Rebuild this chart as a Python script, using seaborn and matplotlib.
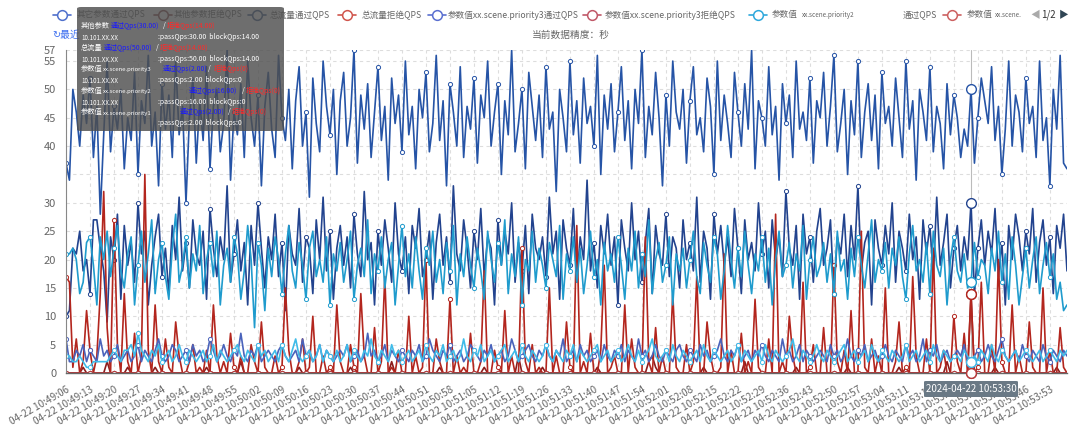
import matplotlib
matplotlib.use("Agg")
import matplotlib.pyplot as plt
from matplotlib.lines import Line2D
from matplotlib.patches import FancyBboxPatch
import pandas as pd
import seaborn as sns

W, H = 1080, 426

# ---- data (one point per second) ----
total_pass = [
    37, 34, 50, 46, 40, 49, 44, 52, 38, 47, 28, 42, 55, 39, 47, 43, 50, 36, 45, 41,
    53, 35, 48, 44, 56, 40, 46, 33, 51, 43, 49, 38, 55, 42, 47, 30, 45, 52, 37, 48,
    41, 54, 36, 47, 50, 39, 44, 57, 34, 46, 42, 51, 38, 55, 45, 40, 49, 33, 47, 53,
    43, 38, 56, 45, 41, 50, 36, 48, 54, 40, 46, 31, 52, 44, 39, 55, 47, 42, 50, 35,
    48, 53, 40, 45, 57, 37, 49, 43, 51, 38, 46, 54, 41, 47, 34, 52, 44, 49, 39, 55,
    42, 47, 36, 50, 45, 53, 39, 44, 56, 41, 48, 33, 51, 46, 40, 54, 38, 47, 43, 52,
    37, 49, 45, 55, 40, 46, 51, 35, 48, 42, 57, 39, 44, 50, 36, 53, 47, 41, 49, 38,
    54, 43, 46, 32, 50, 45, 39, 55, 42, 48, 37, 52, 44, 47, 40, 56, 35, 49, 43, 51,
    39, 46, 54, 41, 48, 36, 50, 44, 57, 38, 47, 42, 53, 45, 33, 49, 40, 55, 46, 43,
    50, 37, 48, 54, 42, 45, 39, 52, 47, 35, 55, 41, 49, 44, 38, 53, 46, 40, 51, 43,
    57, 36, 48, 45, 40, 54, 42, 47, 34, 51, 44, 49, 38, 55, 43, 46, 41, 52, 37, 48,
    45, 53, 40, 47, 56, 39, 44, 50, 35, 48, 42, 55, 38, 46, 51, 41, 49, 36, 53, 44,
    47, 40, 52, 45, 38, 55, 43, 48, 34, 50, 46, 41, 54, 39, 47, 44, 36, 51, 42, 49,
    45, 38, 43, 40, 50, 37, 45, 52, 48, 44, 54, 41, 47, 35, 43, 55, 40, 49, 46, 39,
    52, 44, 47, 38, 55, 41, 45, 33, 50, 43, 56, 37, 36,
]
other_pass = [
    10, 11, 22, 21, 25, 18, 20, 14, 27, 27, 22, 18, 9, 24, 20, 28, 13, 26, 19, 23,
    16, 30, 21, 25, 12, 19, 24, 28, 17, 22, 14, 26, 20, 31, 18, 23, 15, 27, 21, 19,
    25, 13, 29, 22, 17, 24, 20, 33, 16, 21, 27, 18, 23, 12, 26, 19, 30, 22, 15, 24,
    20, 28, 17, 23, 11, 26, 21, 19, 29, 16, 24, 22, 14, 27, 20, 31, 18, 25, 13, 22,
    26, 19, 24, 15, 28, 21, 17, 32, 20, 23, 12, 25, 19, 27, 22, 16, 30, 21, 18, 24,
    14, 26, 22, 29, 17, 20, 25, 13, 23, 28, 19, 24, 16, 33, 21, 18, 27, 22, 15, 25,
    20, 29, 17, 24, 22, 12, 27, 19, 25, 21, 30, 16, 23, 18, 26, 14, 28, 22, 20, 24,
    17, 31, 21, 25, 13, 27, 22, 19, 29, 16, 24, 20, 34, 18, 23, 15, 26, 21, 28, 19,
    24, 12, 27, 22, 18, 30, 20, 25, 16, 23, 29, 14, 26, 21, 19, 28, 17, 24, 22, 15,
    27, 20, 23, 18, 31, 16, 25, 22, 13, 28, 21, 26, 19, 24, 17, 29, 22, 14, 27, 20,
    23, 18, 30, 21, 25, 15, 27, 20, 24, 17, 32, 22, 19, 26, 13, 28, 21, 24, 16, 25,
    29, 19, 22, 27, 14, 24, 21, 28, 17, 26, 20, 33, 18, 23, 25, 12, 27, 22, 19, 26,
    21, 30, 16, 25, 22, 18, 28, 20, 24, 13, 27, 21, 26, 17, 31, 19, 23, 28, 15, 22,
    26, 18, 24, 20, 30, 14, 22, 27, 19, 25, 21, 29, 17, 23, 12, 26, 20, 28, 24, 18,
    25, 21, 29, 16, 23, 27, 19, 24, 14, 26, 22, 28, 18,
]
p2_pass = [
    21, 21, 22, 20, 14, 16, 23, 24, 19, 12, 24, 20, 25, 17, 22, 26, 18, 15, 21, 24,
    12, 19, 25, 16, 21, 27, 14, 20, 23, 17, 13, 22, 28, 16, 19, 24, 15, 21, 18, 26,
    14, 20, 23, 17, 25, 12, 19, 22, 16, 24, 21, 13, 18, 26, 20, 8, 23, 19, 11, 22,
    17, 24, 20, 14, 21, 26, 18, 15, 23, 19, 13, 22, 25, 17, 20, 16, 24, 12, 21, 18,
    23, 16, 20, 25, 13, 19, 22, 17, 27, 14, 21, 18, 24, 15, 20, 23, 12, 19, 26, 17,
    21, 15, 24, 18, 13, 22, 19, 25, 16, 20, 14, 23, 18, 26, 12, 21, 17, 24, 19, 15,
    22, 18, 13, 25, 20, 16, 23, 19, 27, 14, 21, 17, 24, 12, 20, 18, 25, 16, 22, 19,
    15, 23, 20, 17, 26, 13, 21, 18, 24, 16, 22, 14, 19, 25, 17, 20, 12, 23, 18, 21,
    16, 24, 19, 13, 22, 18, 25, 15, 21, 17, 27, 14, 20, 23, 16, 19, 24, 12, 21, 18,
    22, 15, 20, 25, 17, 14, 23, 19, 16, 24, 21, 13, 18, 26, 20, 15, 22, 17, 25, 19,
    14, 21, 18, 24, 16, 22, 12, 20, 25, 17, 19, 23, 15, 21, 18, 26, 13, 20, 24, 17,
    19, 23, 16, 21, 14, 25, 18, 20, 13, 22, 17, 24, 19, 15, 21, 27, 16, 20, 18, 23,
    15, 22, 19, 24, 17, 13, 21, 26, 18, 20, 16, 23, 14, 25, 19, 17, 22, 12, 20, 24,
    18, 16, 21, 15, 16, 23, 17, 20, 19, 14, 22, 18, 25, 16, 21, 13, 24, 19, 12, 17,
    22, 15, 20, 24, 14, 19, 23, 17, 21, 13, 16, 11, 12,
]
p3_pass = [
    6, 2, 2, 4, 3, 5, 2, 4, 3, 2, 6, 3, 4, 2, 3, 5, 2, 3, 4, 2,
    3, 5, 2, 4, 3, 2, 4, 6, 3, 2, 3, 5, 4, 2, 3, 4, 2, 5, 3, 4,
    2, 3, 6, 4, 2, 3, 5, 3, 2, 4, 3, 7, 3, 2, 4, 3, 5, 2, 3, 4,
    3, 2, 4, 5, 3, 2, 3, 4, 2, 6, 3, 4, 2, 3, 5, 2, 4, 3, 2, 3,
    4, 3, 5, 2, 3, 4, 2, 3, 7, 3, 4, 2, 3, 5, 2, 4, 3, 2, 4, 3,
    2, 4, 3, 5, 2, 3, 6, 4, 3, 2, 4, 3, 5, 2, 3, 4, 2, 3, 5, 4,
    3, 2, 4, 3, 5, 2, 3, 4, 2, 3, 6, 4, 2, 3, 4, 5, 3, 2, 4, 3,
    5, 3, 2, 4, 3, 6, 2, 3, 4, 2, 5, 3, 4, 2, 3, 4, 2, 5, 3, 2,
    4, 3, 5, 2, 4, 3, 2, 6, 3, 4, 2, 3, 5, 3, 2, 4, 3, 2, 4, 5,
    3, 2, 4, 3, 2, 5, 3, 4, 2, 3, 4, 6, 3, 2, 4, 3, 5, 2, 3, 4,
    2, 4, 3, 5, 3, 2, 4, 3, 2, 6, 3, 4, 2, 3, 5, 2, 4, 3, 2, 3,
    4, 3, 2, 5, 3, 4, 2, 3, 6, 3, 2, 4, 3, 5, 2, 3, 4, 2, 3, 5,
    3, 2, 4, 3, 2, 5, 3, 4, 2, 3, 6, 2, 4, 3, 5, 2, 3, 4, 2, 3,
    4, 3, 5, 2, 2, 3, 4, 2, 3, 5, 3, 2, 4, 6, 3, 2, 3, 4, 2, 5,
    3, 2, 4, 3, 2, 5, 3, 2, 4, 3, 2, 4, 3,
]
p1_pass = [
    3, 3, 2, 2, 3, 2, 1, 1, 2, 2, 2, 2, 2, 3, 4, 3, 2, 4, 4, 5,
    3, 7, 4, 3, 2, 4, 3, 5, 2, 3, 4, 2, 3, 5, 3, 2, 4, 3, 2, 3,
    4, 2, 3, 5, 2, 4, 3, 2, 3, 4, 5, 3, 2, 4, 3, 2, 5, 3, 4, 2,
    3, 4, 2, 5, 3, 2, 4, 6, 3, 2, 3, 4, 2, 3, 5, 2, 4, 3, 2, 4,
    2, 3, 5, 2, 4, 3, 2, 4, 3, 6, 3, 2, 4, 3, 2, 5, 3, 4, 2, 3,
    4, 2, 3, 4, 2, 5, 3, 2, 4, 3, 5, 2, 3, 4, 2, 3, 6, 3, 2, 4,
    3, 5, 2, 3, 4, 2, 3, 4, 5, 2, 3, 4, 2, 5, 3, 2, 4, 3, 2, 3,
    5, 3, 2, 4, 3, 2, 4, 3, 5, 2, 4, 3, 2, 3, 4, 5, 2, 3, 4, 2,
    3, 4, 2, 3, 5, 3, 2, 4, 2, 3, 4, 6, 3, 2, 3, 4, 2, 5, 3, 2,
    4, 3, 2, 3, 4, 2, 5, 3, 2, 4, 3, 2, 3, 4, 2, 3, 5, 2, 4, 3,
    2, 3, 4, 2, 5, 3, 2, 4, 3, 2, 3, 4, 6, 3, 2, 4, 3, 2, 3, 5,
    3, 2, 4, 3, 2, 3, 4, 5, 2, 3, 4, 2, 3, 4, 2, 5, 3, 2, 4, 3,
    2, 4, 3, 2, 3, 5, 2, 3, 4, 2, 3, 4, 2, 5, 3, 2, 4, 3, 2, 3,
    3, 2, 4, 3, 2, 3, 2, 4, 3, 2, 5, 3, 2, 4, 3, 2, 3, 4, 2, 3,
    4, 3, 2, 3, 4, 2, 3, 4, 3, 2, 4, 3, 4,
]
total_block = [
    17, 16, 1, 6, 0, 2, 11, 4, 0, 3, 14, 32, 8, 0, 27, 5, 0, 14, 2, 0,
    7, 0, 3, 35, 4, 0, 12, 2, 0, 6, 1, 0, 9, 3, 0, 0, 2, 5, 0, 1,
    0, 4, 0, 12, 3, 0, 2, 0, 7, 1, 0, 3, 0, 0, 5, 2, 0, 9, 1, 0,
    0, 3, 0, 1, 15, 4, 0, 0, 2, 6, 0, 1, 10, 0, 0, 3, 0, 1, 0, 12,
    2, 0, 0, 5, 1, 0, 14, 3, 0, 0, 8, 0, 2, 17, 0, 1, 0, 4, 0, 0,
    10, 0, 3, 0, 1, 20, 0, 0, 6, 2, 0, 0, 13, 0, 3, 0, 1, 0, 7, 0,
    0, 2, 18, 0, 0, 4, 1, 0, 11, 0, 3, 0, 0, 22, 2, 0, 5, 0, 1, 0,
    0, 15, 0, 3, 0, 0, 9, 1, 0, 26, 0, 2, 0, 7, 0, 0, 4, 19, 0, 1,
    3, 0, 0, 12, 0, 6, 1, 0, 0, 24, 2, 0, 8, 0, 3, 0, 0, 14, 1, 0,
    0, 5, 0, 2, 17, 0, 0, 9, 3, 0, 0, 1, 21, 0, 4, 0, 0, 7, 0, 2,
    0, 13, 1, 0, 0, 6, 0, 28, 0, 2, 0, 10, 3, 0, 0, 16, 0, 1, 5, 0,
    0, 8, 0, 0, 19, 2, 0, 4, 0, 11, 0, 0, 25, 1, 0, 6, 0, 3, 0, 15,
    0, 0, 2, 9, 0, 1, 0, 17, 3, 0, 0, 6, 0, 22, 0, 1, 4, 0, 0, 10,
    2, 0, 7, 0, 14, 0, 1, 16, 0, 0, 5, 0, 20, 2, 0, 0, 12, 0, 3, 0,
    0, 9, 1, 0, 0, 15, 0, 4, 0, 0, 8, 1, 0,
]
other_block = [
    0, 0, 0, 0, 0, 1, 0, 0, 0, 0, 0, 0, 2, 0, 0, 0, 0, 0, 1, 0,
    0, 0, 0, 0, 0, 0, 1, 0, 0, 0, 0, 0, 0, 0, 0, 0, 0, 0, 0, 0,
    0, 1, 0, 0, 0, 0, 0, 0, 0, 0, 0, 2, 0, 0, 0, 0, 0, 0, 0, 0,
    0, 0, 0, 0, 0, 0, 0, 0, 1, 0, 0, 0, 0, 0, 0, 0, 0, 0, 0, 0,
    0, 0, 0, 1, 0, 0, 0, 0, 0, 0, 0, 0, 0, 0, 0, 2, 0, 0, 0, 0,
    0, 0, 0, 0, 0, 0, 0, 0, 0, 1, 0, 0, 0, 0, 0, 0, 0, 0, 0, 0,
    0, 0, 1, 0, 0, 0, 0, 0, 0, 0, 0, 0, 3, 0, 0, 0, 0, 0, 0, 1,
    0, 0, 0, 0, 0, 0, 0, 0, 0, 0, 0, 0, 0, 0, 0, 1, 0, 0, 0, 0,
    0, 0, 0, 0, 0, 0, 0, 0, 0, 0, 2, 3, 1, 0, 0, 0, 0, 0, 0, 0,
    0, 0, 0, 0, 0, 0, 1, 0, 0, 0, 0, 0, 0, 0, 0, 0, 0, 0, 2, 0,
    0, 0, 0, 0, 0, 0, 0, 0, 0, 0, 0, 0, 0, 1, 0, 0, 0, 0, 0, 0,
    0, 0, 0, 0, 0, 0, 0, 0, 1, 0, 0, 0, 0, 0, 0, 0, 0, 0, 0, 0,
    0, 0, 0, 1, 0, 0, 0, 0, 0, 0, 0, 0, 0, 0, 0, 0, 0, 2, 0, 0,
    0, 0, 0, 0, 14, 0, 0, 0, 0, 0, 0, 1, 0, 0, 0, 0, 0, 0, 0, 0,
    0, 0, 0, 0, 0, 0, 0, 0, 0, 1, 0, 0, 0,
]
p3_block = [
    0, 0, 0, 0, 0, 0, 0, 0, 0, 0, 0, 0, 0, 0, 0, 0, 0, 0, 0, 0,
    0, 0, 0, 0, 0, 0, 0, 0, 0, 0, 0, 0, 0, 0, 0, 0, 0, 0, 0, 0,
    0, 0, 0, 0, 0, 0, 0, 0, 0, 0, 0, 0, 0, 0, 0, 0, 0, 0, 0, 0,
    0, 0, 0, 0, 0, 0, 0, 0, 0, 0, 0, 0, 0, 0, 0, 0, 0, 0, 0, 0,
    0, 0, 0, 0, 0, 0, 0, 0, 0, 0, 0, 0, 0, 0, 0, 0, 0, 0, 0, 0,
    0, 0, 0, 0, 0, 0, 0, 0, 0, 0, 0, 0, 0, 0, 0, 0, 0, 0, 0, 0,
    0, 0, 0, 0, 0, 0, 0, 0, 0, 0, 0, 0, 0, 0, 0, 0, 0, 0, 0, 0,
    0, 0, 0, 0, 0, 0, 0, 0, 0, 0, 0, 0, 0, 0, 0, 0, 0, 0, 0, 0,
    0, 0, 0, 0, 0, 0, 0, 0, 0, 0, 0, 0, 0, 0, 0, 0, 0, 0, 0, 0,
    0, 0, 0, 0, 0, 0, 0, 0, 0, 0, 0, 0, 0, 0, 0, 0, 0, 0, 0, 0,
    0, 0, 0, 0, 0, 0, 0, 0, 0, 0, 0, 0, 0, 0, 0, 0, 0, 0, 0, 0,
    0, 0, 0, 0, 0, 0, 0, 0, 0, 0, 0, 0, 0, 0, 0, 0, 0, 0, 0, 0,
    0, 0, 0, 0, 0, 0, 0, 0, 0, 0, 0, 0, 0, 0, 0, 0, 0, 0, 0, 0,
    0, 0, 0, 0, 0, 0, 0, 0, 0, 0, 0, 0, 0, 0, 0, 0, 0, 0, 0, 0,
    0, 0, 0, 0, 0, 0, 0, 0, 0, 0, 0, 0, 0,
]
p2_block = list(p3_block)  # both read as flat zero in the picture

series_names = ["其它参数通过QPS", "其他参数拒绝QPS", "总流量通过QPS", "总流量拒绝QPS",
                "参数值xx.scene.priority3通过QPS", "参数值xx.scene.priority3拒绝QPS",
                "参数值xx.scene.priority2通过QPS", "参数值xx.scene.priority2拒绝QPS",
                "参数值xx.scene.priority1通过QPS"]
series_values = [other_pass, other_block, total_pass, total_block,
                 p3_pass, p3_block, p2_pass, p2_block, p1_pass]
series_colors = ["#22438e", "#8c1d1d", "#2654a6", "#b3261e",
                 "#4a63bb", "#9c2a3a", "#1f9bcd", "#b83a3a", "#3fbbe8"]

start_time = "2024-04-22 10:49:06"
hover_idx = 264

df = pd.DataFrame({n: pd.Series(v) for n, v in zip(series_names, series_values)})
times = pd.date_range(start_time, periods=len(df), freq="s")


def fx(x):
    return x / W


def fy(y):
    return 1 - y / H


sns.set_theme(style="white")
plt.rcParams['font.family'] = ['Noto Sans CJK SC', 'DejaVu Sans']

fig = plt.figure(figsize=(W / 100, H / 100), dpi=100)
ax = fig.add_axes([fx(66), fy(373), (1067 - 66) / W, (373 - 49.7) / H])

for name, col in zip(series_names, series_colors):
    sns.lineplot(x=df.index, y=df[name], ax=ax, color=col, lw=1.2,
                 marker="o", markersize=3, markevery=7,
                 markerfacecolor="white", markeredgecolor=col, markeredgewidth=0.7)

# axis pointer at the hovered second
ax.axvline(hover_idx, color="#bbbbbb", lw=0.8, zorder=1)
for name, col in zip(series_names, series_colors):
    ax.plot(hover_idx, df[name][hover_idx], "o", ms=7, mfc="white", mec=col,
            mew=1.0, zorder=6, clip_on=False)

ax.set_xlim(0, len(df) - 1)
ax.set_ylim(0, 57)
xt = list(range(0, len(df), 7))
ax.set_xticks(xt)
ax.set_xticklabels([times[i].strftime("%m-%d %H:%M:%S") for i in xt],
                   rotation=30, ha="right", rotation_mode="anchor",
                   fontsize=7.2, color="#666666")
yt = [0, 5, 10, 15, 20, 25, 30, 35, 40, 45, 50, 55, 57]
ax.set_yticks(yt)
ax.set_yticklabels(["" if v == 35 else str(v) for v in yt], fontsize=8, color="#666666")
ax.tick_params(axis="both", length=4, width=0.8, color="#888888", pad=3)
ax.tick_params(axis="x", pad=4)
ax.grid(True, color="#dddddd", lw=0.8, ls=(0, (3, 3)))
ax.set_xlabel("")
ax.set_ylabel("")
for s in ["top", "right"]:
    ax.spines[s].set_visible(False)
ax.spines["left"].set_color("#888888")
ax.spines["left"].set_linewidth(0.8)
ax.spines["bottom"].set_color("#666666")
ax.spines["bottom"].set_linewidth(1.0)

# ---- legend row ----
legend_items = [
    (62, 77, "其它参数通过QPS", "#4f70cc"),
    (163, 174, "其他参数拒绝QPS", "#8e4a4a"),
    (257, 270, "总流量通过QPS", "#3a5a8e"),
    (347, 362, "总流量拒绝QPS", "#d0554c"),
    (437, 448, "参数值xx.scene.priority3通过QPS", "#5a6fd0"),
    (592, 605, "参数值xx.scene.priority3拒绝QPS", "#c05868"),
    (758, 772, "参数值", "#2ea8dc"),
    (952, 967, "参数值", "#cc6060"),
]
ly = 15
for cx, tx, label, col in legend_items:
    fig.add_artist(Line2D([fx(cx - 9), fx(cx + 9)], [fy(ly), fy(ly)],
                          transform=fig.transFigure, color=col, lw=1.2))
    fig.add_artist(Line2D([fx(cx)], [fy(ly)], transform=fig.transFigure, marker="o",
                          ms=7, mfc="white", mec=col, mew=1.1))
    fig.text(fx(tx), fy(ly), label, fontsize=6.2, color="#666666", va="center", ha="left")
fig.text(fx(802), fy(ly), "xx.scene.priority2", fontsize=4.6, color="#666666", va="center")
fig.text(fx(903), fy(ly), "通过QPS", fontsize=6.2, color="#666666", va="center")
fig.text(fx(995), fy(ly), "xx.scene.", fontsize=4.6, color="#666666", va="center")
fig.text(fx(1030), fy(ly), "◀", fontsize=7, color="#aaaaaa", va="center")
fig.text(fx(1041), fy(ly), "1/2", fontsize=7, color="#333333", va="center")
fig.text(fx(1059), fy(ly), "▶", fontsize=7, color="#2f4554", va="center")

fig.text(fx(52), fy(35), "↻最近", fontsize=7, color="#3a6df0", va="center", zorder=4)
fig.text(fx(571), fy(35), "当前数据精度：秒", fontsize=7, color="#666666",
         va="center", ha="center")

# ---- tooltip box ----
fig.add_artist(FancyBboxPatch((fx(77), fy(131)), (284 - 77) / W, (131 - 7) / H,
                              boxstyle="round,pad=0,rounding_size=0.004",
                              transform=fig.transFigure, facecolor="#4e4e4e",
                              alpha=0.82, edgecolor="none", zorder=10))


def tip(x, y, s, color="white", size=5):
    fig.text(fx(x), fy(y), s, fontsize=size, color=color, va="center", ha="left", zorder=11)


blue, red = "#1a1aff", "#ff2a2a"
tip_rows = [
    (26, "其他参数", None, 111, "通过Qps(30.00)", 163, 167, "拒绝Qps(14.00)", ":passQps:30.00  blockQps:14.00"),
    (48, "总流量", None, 104, "通过Qps(50.00)", 156, 160, "拒绝Qps(14.00)", ":passQps:50.00  blockQps:14.00"),
    (69, "参数值", "xx.scene.priority3", 163, "通过Qps(2.00)", 208, 214, "拒绝Qps(0)", ":passQps:2.00  blockQps:0"),
    (91, "参数值", "xx.scene.priority2", 189, "通过Qps(16.00)", 242, 246, "拒绝Qps(0)", ":passQps:16.00  blockQps:0"),
    (112, "参数值", "xx.scene.priority1", 180, "通过Qps(2.00)", 228, 232, "拒绝Qps(0)", ":passQps:2.00  blockQps:0"),
]
for y, head, small, bx, btxt, sx, rx, rtxt, detail in tip_rows:
    tip(81, y, head, size=5.2)
    if small:
        tip(103, y + 1, small, size=4.3)
    tip(bx, y, btxt, color=blue)
    tip(sx, y, "/")
    tip(rx, y, rtxt, color=red)
    if y < 100:
        tip(81, y + 12, "10.101.XX.XX", size=4.5)
    tip(158, y + 11, detail, size=5)

# ---- axis pointer label ----
fig.add_artist(FancyBboxPatch((fx(924), fy(397)), (1018 - 924) / W, (397 - 381) / H,
                              boxstyle="round,pad=0,rounding_size=0.002",
                              transform=fig.transFigure, facecolor="#6a7985",
                              edgecolor="none", zorder=10))
fig.text(fx(971), fy(389), times[hover_idx].strftime("%Y-%m-%d %H:%M:%S"),
         fontsize=7, color="white", ha="center", va="center", zorder=11)

fig.savefig("out.png", dpi=100)
